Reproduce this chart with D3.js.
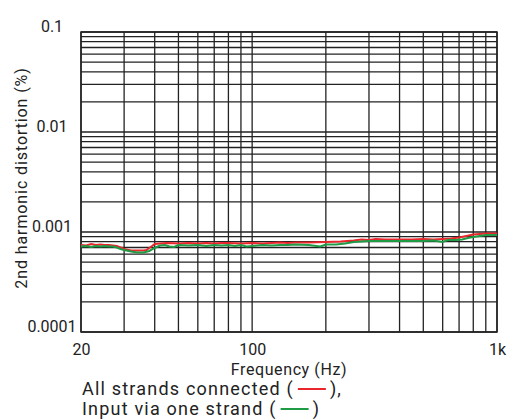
<!DOCTYPE html>
<html><head><meta charset="utf-8">
<script src="https://cdn.jsdelivr.net/npm/d3@7"></script>
<style>
body{margin:0;background:#fff;}
text{font-family:Roboto,"Liberation Sans",sans-serif;fill:#222;}
</style></head>
<body><svg id="c" width="509" height="420"></svg>
<script>
const redFreq=[20,21,22,23,24,25,26,27,28,29,30,32,34,36,37,38,39,40,42,45,50,55,60,65,70,75,80,90,100,110,120,130,140,150,170,200,230,260,280,300,320,350,400,450,500,550,600,650,700,750,800,850,900,1000];
const redVals=[0.741,0.733,0.759,0.741,0.750,0.741,0.741,0.733,0.724,0.700,0.676,0.653,0.653,0.653,0.661,0.692,0.724,0.759,0.767,0.776,0.767,0.776,0.767,0.776,0.767,0.776,0.776,0.767,0.776,0.767,0.776,0.785,0.776,0.785,0.785,0.794,0.804,0.822,0.841,0.832,0.851,0.841,0.841,0.841,0.851,0.841,0.851,0.861,0.881,0.912,0.944,0.955,0.966,0.966].map(v=>v*1e-3);
const greenFreq=[20,21,22,23,24,25,26,27,28,29,30,32,34,36,38,40,42,44,46,48,50,55,60,65,70,75,80,85,90,95,100,110,120,130,140,150,170,190,200,220,240,260,280,300,330,360,400,450,500,550,600,630,680,720,760,800,850,900,1000];
const greenVals=[0.716,0.724,0.708,0.724,0.716,0.724,0.716,0.716,0.700,0.676,0.661,0.638,0.624,0.624,0.646,0.692,0.733,0.741,0.716,0.708,0.741,0.733,0.741,0.724,0.741,0.733,0.741,0.724,0.741,0.716,0.724,0.741,0.733,0.741,0.741,0.750,0.741,0.716,0.750,0.750,0.767,0.794,0.804,0.813,0.813,0.813,0.813,0.813,0.813,0.822,0.794,0.832,0.832,0.841,0.871,0.891,0.912,0.933,0.933].map(v=>v*1e-3);
const xTickValues=[20,100,1000];
const xTickLabels=["20","100","1k"];
const yTickValues=[0.0001,0.001,0.01,0.1];
const yTickLabels=["0.0001","0.001","0.01","0.1"];
const xTitle="Frequency (Hz)";
const yTitle="2nd harmonic distortion (%)";
const legendLabels=["All strands connected (","Input via one strand ("];
const legendTails=["),",")"];
const colors=["#e8262c","#1f9a45"];

const svg=d3.select("#c");
const L=81,R=497,T=32,B=332;
const x=d3.scaleLog().domain([20,1000]).range([L,R]);
const y=d3.scaleLog().domain([0.0001,0.1]).range([B,T]);

const g=svg.append("g");
g.selectAll("line.vx").data(x.ticks()).join("line")
 .attr("x1",d=>x(d)).attr("x2",d=>x(d)).attr("y1",T).attr("y2",B)
 .attr("stroke","#222").attr("stroke-width",1.3);
g.selectAll("line.hy").data(y.ticks()).join("line")
 .attr("y1",d=>y(d)).attr("y2",d=>y(d)).attr("x1",L).attr("x2",R)
 .attr("stroke","#222").attr("stroke-width",1.3);
g.append("rect").attr("x",L).attr("y",T).attr("width",R-L).attr("height",B-T)
 .attr("fill","none").attr("stroke","#222").attr("stroke-width",1.5);

const xa=svg.append("g").attr("transform",`translate(0,${B})`)
 .call(d3.axisBottom(x).tickValues(xTickValues).tickFormat((d,i)=>xTickLabels[i]).tickSize(0));
xa.select(".domain").remove();
xa.selectAll("text").attr("y",23).attr("dy",0).style("font-size","16px").style("font-family","Roboto,sans-serif").attr("fill","#222");
const ya=svg.append("g").attr("transform",`translate(${L},0)`)
 .call(d3.axisLeft(y).tickValues(yTickValues).tickFormat((d,i)=>yTickLabels[i]).tickSize(0));
ya.select(".domain").remove();
ya.selectAll("text").attr("x",-29).attr("dy",-1).attr("text-anchor","middle").attr("dominant-baseline","auto")
 .style("font-size","16px").style("font-family","Roboto,sans-serif").attr("fill","#222");

const line=d3.line().x(d=>x(d[0])).y(d=>y(d[1])).curve(d3.curveLinear);
svg.append("path").datum(redFreq.map((f,i)=>[f,redVals[i]])).attr("d",line)
 .attr("fill","none").attr("stroke",colors[0]).attr("stroke-width",2);
svg.append("path").datum(greenFreq.map((f,i)=>[f,greenVals[i]])).attr("d",line)
 .attr("fill","none").attr("stroke",colors[1]).attr("stroke-width",2);

svg.append("text").attr("x",289).attr("y",375).attr("text-anchor","middle")
 .style("font-size","16px").style("letter-spacing","0.6px").text(xTitle);
svg.append("text").attr("transform","translate(27,178) rotate(-90)").attr("text-anchor","middle")
 .style("font-size","16px").style("letter-spacing","0.9px").text(yTitle);

const ly=[395,415];
legendLabels.forEach((lab,i)=>{
  const t=svg.append("text").attr("x",82).attr("y",ly[i]).style("font-size","18px").style("letter-spacing","1.2px").text(lab);
  const w=t.node().getComputedTextLength();
  const x0=82+w+4;
  svg.append("line").attr("x1",x0).attr("x2",x0+28).attr("y1",ly[i]-6).attr("y2",ly[i]-6)
    .attr("stroke",colors[i]).attr("stroke-width",2);
  svg.append("text").attr("x",x0+32).attr("y",ly[i]).style("font-size","18px").style("letter-spacing","1.2px").text(legendTails[i]);
});
</script></body></html>
